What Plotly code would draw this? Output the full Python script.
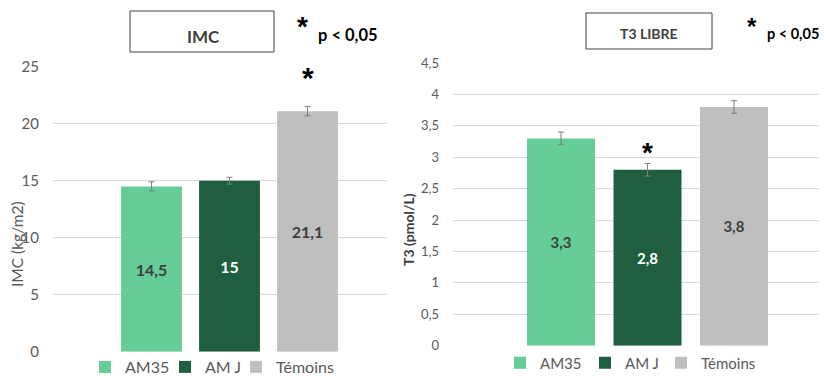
import plotly.graph_objects as go

W, H = 827, 376
OFF = 8  # default page body margin
FW, FH = W - OFF, H - OFF

groups = ["AM35", "AM J", "Témoins"]
colors = ["#64CD98", "#1F5E3F", "#BFBFBF"]
label_colors = ["#404040", "#FFFFFF", "#404040"]

imc_values = [14.5, 15, 21.1]
imc_errors = [0.4, 0.3, 0.4]
imc_ticks = [0, 5, 10, 15, 20, 25]

t3_values = [3.3, 2.8, 3.8]
t3_errors = [0.1, 0.1, 0.1]
t3_ticks = [0, 0.5, 1, 1.5, 2, 2.5, 3, 3.5, 4, 4.5]

FONT = "Lato"
GRAY = "#595959"


def px(x):
    return (x - OFF) / FW


def py(y):
    return 1 - (y - OFF) / FH


def fmt(v):
    return f"{v:g}".replace(".", ",")


fig = go.Figure()

for i, g in enumerate(groups):
    fig.add_trace(go.Bar(
        x=[g], y=[imc_values[i]], name=g, marker_color=colors[i],
        marker_line_width=0, width=0.78,
        error_y=dict(type="data", array=[imc_errors[i]], color="#7F7F7F",
                     thickness=1, width=3),
        text=[fmt(imc_values[i])], textposition="inside",
        insidetextanchor="middle", textangle=0,
        textfont=dict(family=FONT, size=16, color=label_colors[i], weight="bold"),
        xaxis="x", yaxis="y", legend="legend" if i == 0 else f"legend{i + 1}",
    ))

for i, g in enumerate(groups):
    fig.add_trace(go.Bar(
        x=[g], y=[t3_values[i]], name=g, marker_color=colors[i],
        marker_line_width=0, width=0.786,
        error_y=dict(type="data", array=[t3_errors[i]], color="#7F7F7F",
                     thickness=1, width=3),
        text=[fmt(t3_values[i])], textposition="inside",
        insidetextanchor="middle", textangle=0,
        textfont=dict(family=FONT, size=15, color=label_colors[i], weight="bold"),
        xaxis="x2", yaxis="y2", legend=f"legend{i + 4}",
    ))

legend_sq_left = [102, 182, 253, 517, 602, 678]
legend_y = [367, 367, 367, 363, 363, 363]
legend_size = [16, 16, 16, 15, 15, 15]
legends = {}
for k in range(6):
    key = "legend" if k == 0 else f"legend{k + 1}"
    legends[key] = dict(orientation="h", x=px(legend_sq_left[k] - 17),
                        y=py(legend_y[k]), xanchor="left", yanchor="middle",
                        font=dict(size=legend_size[k], color=GRAY),
                        bgcolor="rgba(0,0,0,0)", itemclick=False,
                        itemdoubleclick=False)

fig.update_layout(
    width=FW, height=FH, margin=dict(l=0, r=0, t=0, b=0, autoexpand=False),
    paper_bgcolor="white", plot_bgcolor="white",
    barmode="overlay", separators=", ",
    font=dict(family=FONT, color=GRAY),
    xaxis=dict(domain=[px(53), px(387)], type="category",
               categoryorder="array", categoryarray=groups,
               range=[-1.263, 3.019], showticklabels=False, showgrid=False,
               zeroline=False, anchor="y", automargin=False),
    yaxis=dict(domain=[py(351.7), py(66.7)], range=[0, 25], tickvals=imc_ticks,
               ticktext=[fmt(t) for t in imc_ticks],
               showgrid=True, gridcolor="#D9D9D9", gridwidth=1,
               zeroline=False, showline=False, ticks="", automargin=False,
               ticklabelstandoff=13, tickfont=dict(size=15, color=GRAY),
               anchor="x"),
    xaxis2=dict(domain=[px(453), 1.0], type="category",
                categoryorder="array", categoryarray=groups,
                range=[-1.249, 3.075], showticklabels=False, showgrid=False,
                zeroline=False, anchor="y2", automargin=False),
    yaxis2=dict(domain=[py(345.7), py(63)], range=[0, 4.5], tickvals=t3_ticks,
                ticktext=[fmt(t) for t in t3_ticks],
                showgrid=True, gridcolor="#D9D9D9", gridwidth=1,
                zeroline=False, showline=False, ticks="", automargin=False,
                ticklabelstandoff=13, tickfont=dict(size=13, color=GRAY),
                anchor="x2"),
    showlegend=True,
    **legends,
)

# Title boxes
fig.add_shape(type="rect", xref="paper", yref="paper",
              x0=px(130), x1=px(274), y0=py(52), y1=py(11),
              line=dict(color="#404040", width=1), fillcolor="white")
fig.add_shape(type="rect", xref="paper", yref="paper",
              x0=px(586), x1=px(712), y0=py(49), y1=py(13),
              line=dict(color="#404040", width=1), fillcolor="white")

ann = []
ann.append(dict(x=px(203), y=py(37), text="<b>IMC</b>",
                font=dict(size=17, color="#404040")))
ann.append(dict(x=px(649), y=py(34), text="<b>T3 LIBRE</b>",
                font=dict(size=14, color="#404040")))
# significance legends
ann.append(dict(x=px(302), y=py(27), text="<b>*</b>",
                font=dict(size=28, color="black", family="Liberation Sans")))
ann.append(dict(x=px(347.5), y=py(35), text="<b>p < 0,05</b>",
                font=dict(size=16.5, color="black")))
ann.append(dict(x=px(752), y=py(27), text="<b>*</b>",
                font=dict(size=24, color="black", family="Liberation Sans")))
ann.append(dict(x=px(792.5), y=py(33), text="<b>p < 0,05</b>",
                font=dict(size=14.5, color="black")))
# y axis titles
ann.append(dict(x=px(17), y=py(244), text="IMC (kg/m2)", textangle=-90,
                font=dict(size=15.5, color=GRAY)))
ann.append(dict(x=px(408), y=py(230), text="<b>T3 (pmol/L)</b>", textangle=-90,
                font=dict(size=14, color="#404040")))

for a in ann:
    a.update(xref="paper", yref="paper", showarrow=False,
             xanchor="center", yanchor="middle")
    fig.add_annotation(**a)

# asterisks above significant bars
fig.add_annotation(x=groups[2], y=24.05, xref="x", yref="y", text="<b>*</b>",
                   showarrow=False, font=dict(size=30, color="black",
                                              family="Liberation Sans"))
fig.add_annotation(x=groups[1], y=3.07, xref="x2", yref="y2", text="<b>*</b>",
                   showarrow=False, font=dict(size=28, color="black",
                                              family="Liberation Sans"))

fig.write_html("out.html")
